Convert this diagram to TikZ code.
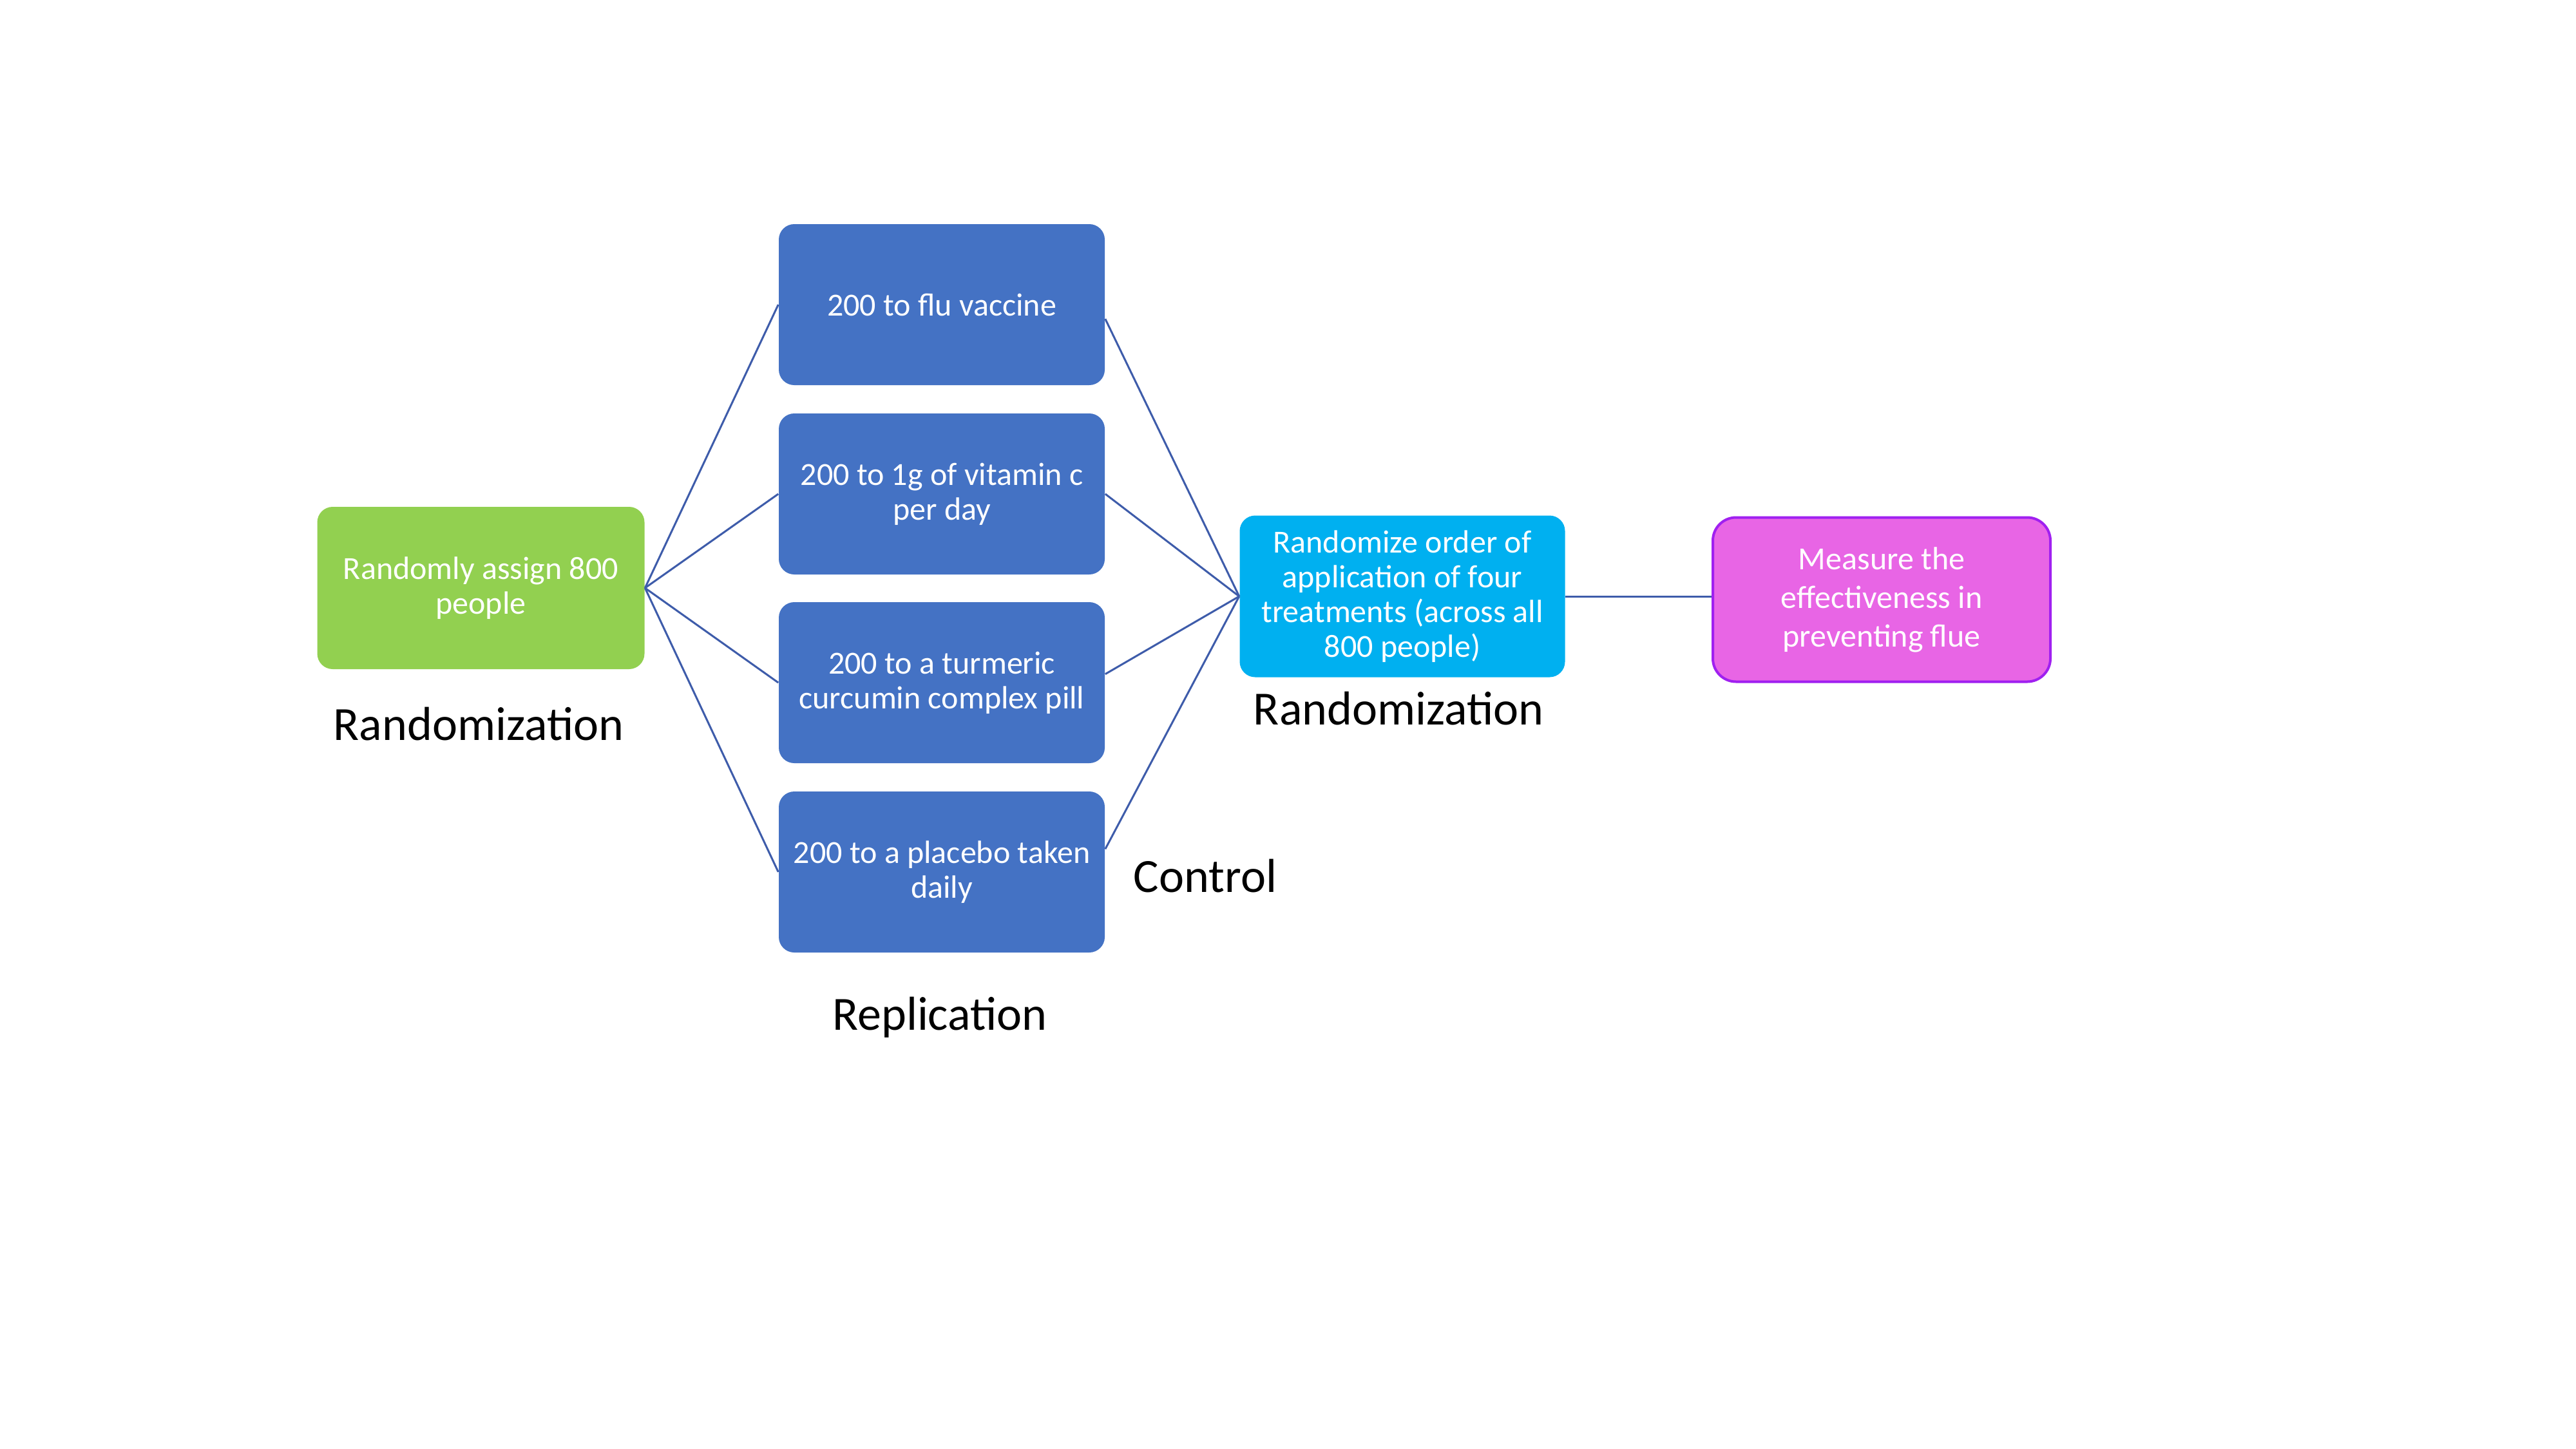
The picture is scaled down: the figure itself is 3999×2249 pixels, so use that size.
\documentclass[tikz,border=0pt]{standalone}
\usepackage{fontspec}
\setmainfont{Carlito}
\definecolor{gfill}{RGB}{146,208,80}
\definecolor{bfill}{RGB}{68,114,196}
\definecolor{cfill}{RGB}{0,176,240}
\definecolor{mfill}{RGB}{232,101,229}
\definecolor{mdraw}{RGB}{160,32,240}
\definecolor{linkc}{RGB}{62,92,170}
\begin{document}
\begin{tikzpicture}[x=0.25pt,y=-0.25pt,
 box/.style={rounded corners=6pt, minimum width=126.5pt, minimum height=62.5pt, inner sep=0pt, align=center, text=white, font=\fontsize{12.5}{13.5}\selectfont},
 lbl/.style={font=\fontsize{18.5}{22}\selectfont, anchor=base, inner sep=0pt},
 link/.style={draw=linkc, line width=0.75pt}]
\fill[white] (0,0) rectangle (3999,2249);
\useasboundingbox (0,0) rectangle (3999,2249);

\node[box, fill=gfill, minimum width=127pt, minimum height=63pt] (g) at (746.5,913) {Randomly assign 800\\people};
\node[box, fill=bfill] (b1) at (1462,473) {200 to flu vaccine};
\node[box, fill=bfill] (b2) at (1462,767) {200 to 1g of vitamin c\\per day};
\node[box, fill=bfill] (b3) at (1462,1060) {200 to a turmeric\\curcumin complex pill};
\node[box, fill=bfill] (b4) at (1462,1354) {200 to a placebo taken\\daily};
\node[box, fill=cfill, minimum width=126.25pt, minimum height=62.75pt] (c) at (2177,926) {Randomize order of\\application of four\\treatments (across all\\800 people)};
\node[box, fill=mfill, draw=mdraw, line width=1pt, rounded corners=9pt, minimum width=131pt, minimum height=63.75pt, font=\fontsize{12.5}{15}\selectfont] (m) at (2921,931) {Measure the\\effectiveness in\\preventing flue};

\node[lbl] (l1) at (743,1149) {Randomization};
\node[lbl] (l2) at (2171,1125) {Randomization};
\node[lbl] (l3) at (1871,1385) {Control};
\node[lbl] (l4) at (1459,1599) {Replication};

\draw[link] (g.east) -- (b1.west);
\draw[link] (g.east) -- (b2.west);
\draw[link] (g.east) -- (b3.west);
\draw[link] (g.east) -- (b4.west);
\draw[link] (b1.-5) -- (c.west);
\draw[link] (b2.east) -- (c.west);
\draw[link] (b3.3) -- (c.west);
\draw[link] (b4.8) -- (c.west);
\draw[link] (c.east) -- (c.east -| m.west);
\end{tikzpicture}
\end{document}
